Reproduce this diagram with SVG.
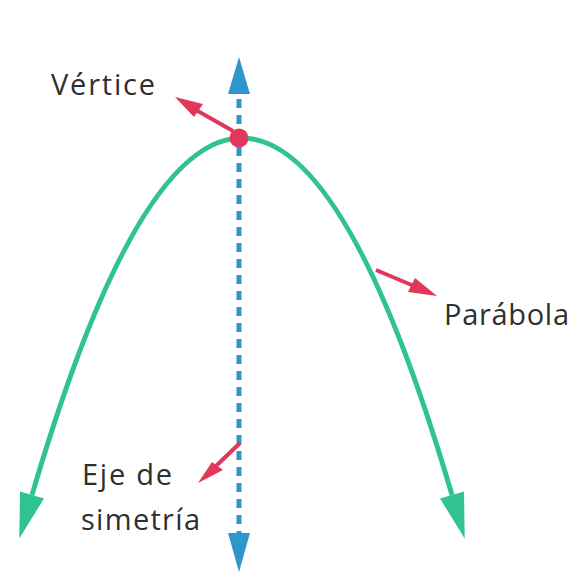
<svg xmlns="http://www.w3.org/2000/svg" width="570" height="575" viewBox="0 0 570 575">
<style>
.lbl{font-family:"Open Sans","Noto Sans","Liberation Sans",sans-serif;font-size:29px;fill:#2f2f2f}
.curve{fill:none;stroke:#31C291;stroke-width:5}
.green{fill:#31C291}
.axis{fill:none;stroke:#2F96CC;stroke-width:5;stroke-dasharray:9 7}
.blue{fill:#2F96CC}
.red{fill:#E1375A}
.redline{stroke:#E1375A;stroke-width:4;fill:none}
</style>
<rect width="570" height="575" fill="#ffffff"/>
<g id="parabola">
<path class="curve" d="M32,495 Q242,-219 452,495"/>
<polygon class="green" points="19.3,538.5 20,491.5 44,498.5"/>
<polygon class="green" points="464.7,538.5 464,491.5 440,498.5"/>
</g>
<g id="eje">
<line class="axis" x1="239" y1="99" x2="239" y2="533"/>
<polygon class="blue" points="239,57 228,94 250,94"/>
<polygon class="blue" points="239,572 228,533 250,533"/>
</g>
<g id="connectors">
<line class="redline" x1="233" y1="131" x2="196" y2="110"/>
<polygon class="red" points="175,97 203,104 194,117"/>
<line class="redline" x1="376" y1="270" x2="414" y2="286"/>
<polygon class="red" points="437,296 415,278 408,292"/>
<line class="redline" x1="240" y1="443" x2="216" y2="466"/>
<polygon class="red" points="198,483 212,462 223,470"/>
</g>
<g id="vertice">
<circle class="red" cx="239" cy="138" r="9.5"/>
<text class="lbl" x="51" y="95" textLength="104">Vértice</text>
</g>
<g id="label-parabola">
<text class="lbl" x="444" y="325" textLength="125">Parábola</text>
</g>
<g id="label-eje">
<text class="lbl" x="82" y="485" textLength="90">Eje de</text>
<text class="lbl" x="81" y="530" textLength="119">simetría</text>
</g>
</svg>
